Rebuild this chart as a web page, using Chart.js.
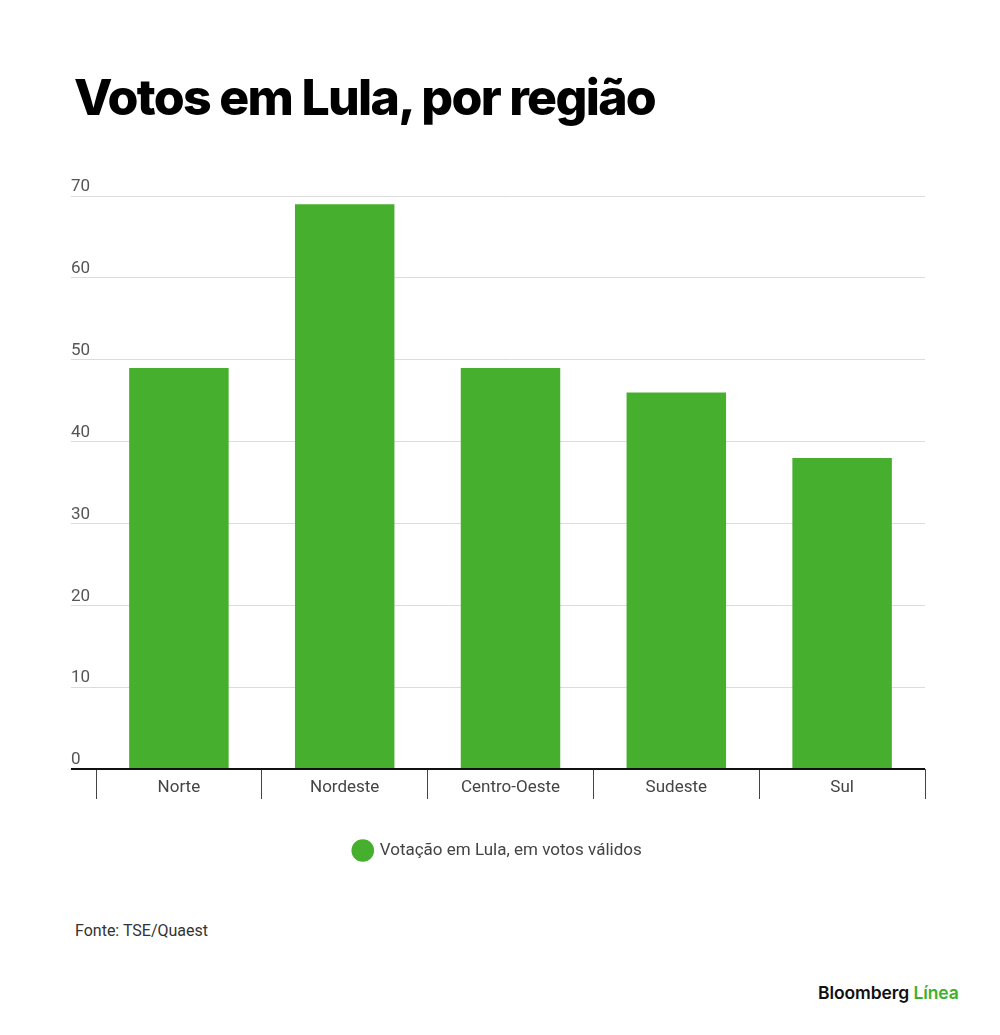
<!DOCTYPE html>
<html>
<head>
<meta charset="utf-8">
<script src="https://cdn.jsdelivr.net/npm/chart.js@4/dist/chart.umd.min.js"></script>
<style>
  html, body { margin: 0; padding: 0; background: #fff; }
  #page { position: relative; width: 1000px; height: 1035px; background: #fff; overflow: hidden; }
  #title { position: absolute; left: 74px; top: 67px; font-family: Inter, "Liberation Sans", sans-serif; font-weight: 800; font-size: 50px; letter-spacing: -1.7px; color: #000; white-space: nowrap; }
  #wrap { position: absolute; left: 0; top: 160px; width: 1000px; height: 720px; }
  #source { position: absolute; left: 75px; top: 921px; font-family: Roboto, "Liberation Sans", sans-serif; font-size: 16px; color: #333; }
  #logo { position: absolute; left: 818px; top: 982px; font-family: Inter, "Liberation Sans", sans-serif; font-weight: 600; font-size: 17.5px; color: #111; letter-spacing: -0.1px; }
  #logo span { color: #3db02a; }
</style>
</head>
<body>
<div id="page">
  <div id="title">Votos em Lula, por região</div>
  <div id="wrap"><canvas id="c"></canvas></div>
  <div id="source">Fonte: TSE/Quaest</div>
  <div id="logo">Bloomberg <span>Línea</span></div>
</div>
<script>
const categories = ["Norte", "Nordeste", "Centro-Oeste", "Sudeste", "Sul"];
const seriesName = "Votação em Lula, em votos válidos";
const votos = [49, 69, 49, 46, 38];
const yTicks = [0, 10, 20, 30, 40, 50, 60, 70];

const green = "#46af2d";

new Chart(document.getElementById("c"), {
  type: "bar",
  data: {
    labels: categories,
    datasets: [{
      label: seriesName,
      data: votos,
      backgroundColor: green,
      borderWidth: 0,
      categoryPercentage: 1.0,
      barPercentage: 0.6
    }]
  },
  options: {
    responsive: true,
    maintainAspectRatio: false,
    animation: false,
    layout: { padding: { left: 71, right: 75, top: 36, bottom: 11 } },
    plugins: {
      tooltip: { enabled: false },
      legend: {
        display: true,
        position: "bottom",
        labels: {
          usePointStyle: true,
          pointStyle: "circle",
          boxHeight: 16,
          padding: 10,
          color: "#444",
          font: { family: "Roboto, 'Liberation Sans', sans-serif", size: 17 }
        }
      }
    },
    scales: {
      x: {
        offset: true,
        grid: {
          offset: true,
          drawOnChartArea: false,
          drawTicks: true,
          tickLength: 30,
          color: "#444",
          lineWidth: 1
        },
        border: { display: false },
        ticks: {
          padding: -21,
          color: "#444",
          font: { family: "Roboto, 'Liberation Sans', sans-serif", size: 17 }
        },
        afterFit: (s) => { s.height = 63; }
      },
      y: {
        min: 0,
        max: 70,
        afterBuildTicks: (s) => { s.ticks = yTicks.map(v => ({ value: v })); },
        grid: {
          drawTicks: true,
          tickLength: 25,
          color: (ctx) => ctx.tick && ctx.tick.value === 0 ? "#111" : "#dcdcdc",
          lineWidth: (ctx) => ctx.tick && ctx.tick.value === 0 ? 2 : 1
        },
        border: { display: false },
        ticks: {
          crossAlign: "far",
          padding: 0,
          labelOffset: -9,
          color: "#555",
          font: { family: "Roboto, 'Liberation Sans', sans-serif", size: 17 }
        },
        afterFit: (s) => { s.width = 25; }
      }
    }
  }
});
</script>
</body>
</html>
